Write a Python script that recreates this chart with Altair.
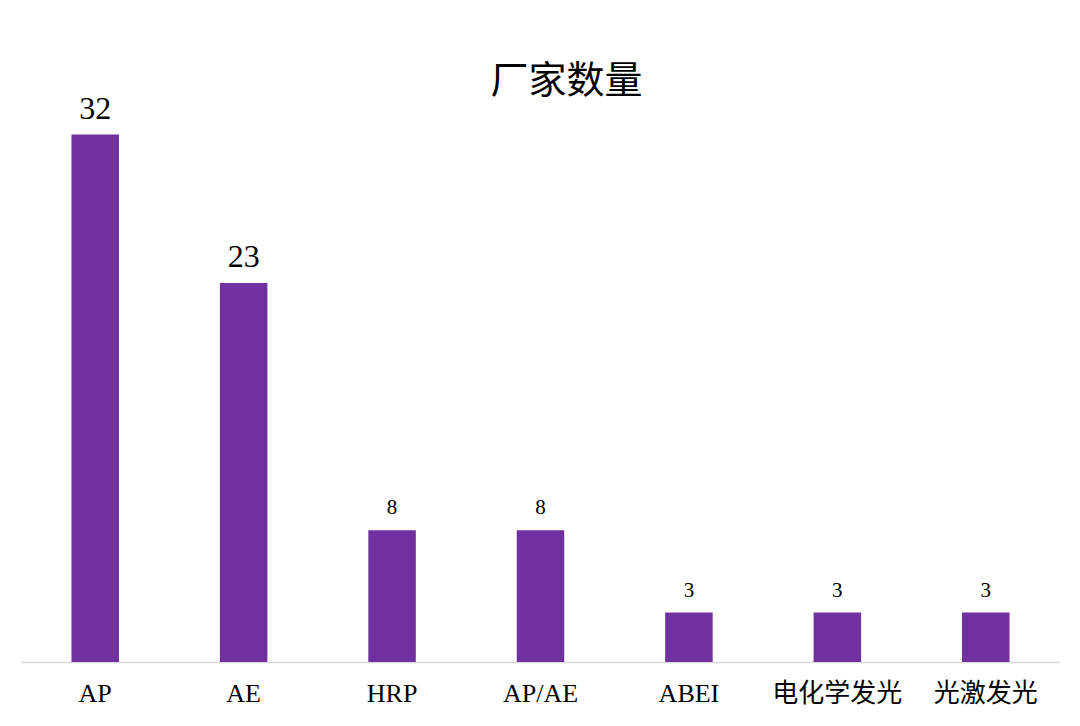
import altair as alt
import pandas as pd

categories = ["AP", "AE", "HRP", "AP/AE", "ABEI", "电化学发光", "光激发光"]
counts = [32, 23, 8, 8, 3, 3, 3]

df = pd.DataFrame({"cat": categories, "count": counts})

FONT = "Liberation Serif, Noto Sans CJK SC"

x = alt.X(
    "cat:N",
    sort=categories,
    title=None,
    scale=alt.Scale(paddingInner=0.68, paddingOuter=0.34),
    axis=alt.Axis(
        labelAngle=0,
        ticks=False,
        domainColor="#d9d9d9",
        domainWidth=1.5,
        labelFont=FONT,
        labelFontSize=26,
        labelColor="#000000",
        labelPadding=18,
        grid=False,
    ),
)
y = alt.Y(
    "count:Q",
    scale=alt.Scale(domain=[0, 34.1], nice=False, zero=True),
    axis=None,
)

bars = alt.Chart(df).mark_bar(color="#7030A0").encode(x=x, y=y)

labels = alt.Chart(df).mark_text(
    baseline="alphabetic", dy=-16, font="Liberation Serif", color="#000000"
).encode(
    x=x,
    y=y,
    text="count:Q",
    size=alt.condition(alt.datum["count"] > 10, alt.value(32), alt.value(21)),
)

chart = (
    alt.layer(bars, labels)
    .properties(
        width=1039,
        height=562,
        padding={"left": 13, "top": 92, "right": 0, "bottom": 56},
        autosize=alt.AutoSizeParams(type="none"),
        title=alt.TitleParams(
            "厂家数量",
            font="Noto Sans CJK SC",
            fontSize=38,
            fontWeight="normal",
            color="#000000",
            anchor="middle",
            frame="group",
            baseline="alphabetic",
            offset=5,
            dx=26,
            dy=43,
        ),
    )
    .configure(background="white")
    .configure_view(stroke=None, strokeWidth=0)
)

chart.save("out.html", embed_options={"renderer": "svg", "actions": False})
